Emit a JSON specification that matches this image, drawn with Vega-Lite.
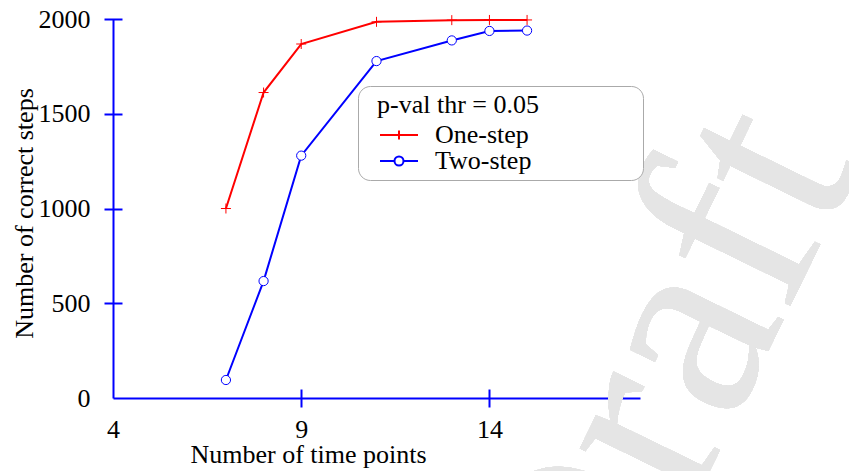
{
  "$schema": "https://vega.github.io/schema/vega-lite/v6.json",
  "width": 527,
  "height": 379,
  "autosize": {"type": "none"},
  "padding": {"left": 113, "top": 19, "right": 209, "bottom": 73},
  "background": "white",
  "config": {
    "view": {"stroke": null},
    "font": "Liberation Serif",
    "axis": {
      "grid": false,
      "zindex": 1,
      "labelFont": "Liberation Serif",
      "labelFontSize": 26,
      "labelColor": "black",
      "titleFont": "Liberation Serif",
      "titleFontSize": 26,
      "titleFontWeight": "normal",
      "titleColor": "black",
      "labelFlush": false,
      "labelOverlap": false
    }
  },
  "data": {
    "values": [
      {"points": 7, "correct": 1000, "method": "One-step"},
      {"points": 8, "correct": 1612, "method": "One-step"},
      {"points": 9, "correct": 1868, "method": "One-step"},
      {"points": 11, "correct": 1985, "method": "One-step"},
      {"points": 13, "correct": 1994, "method": "One-step"},
      {"points": 14, "correct": 1995, "method": "One-step"},
      {"points": 15, "correct": 1995, "method": "One-step"},
      {"points": 7, "correct": 95, "method": "Two-step"},
      {"points": 8, "correct": 617, "method": "Two-step"},
      {"points": 9, "correct": 1279, "method": "Two-step"},
      {"points": 11, "correct": 1778, "method": "Two-step"},
      {"points": 13, "correct": 1887, "method": "Two-step"},
      {"points": 14, "correct": 1937, "method": "Two-step"},
      {"points": 15, "correct": 1939, "method": "Two-step"}
    ]
  },
  "layer": [
    {
      "mark": {
        "type": "text",
        "text": "Draft",
        "font": "Liberation Serif",
        "fontSize": 276,
        "color": "#e5e5e5",
        "angle": 296,
        "align": "left",
        "baseline": "alphabetic",
        "clip": false
      },
      "encoding": {
        "x": {"datum": 17.04, "type": "quantitative", "axis": null, "scale": {"domain": [4, 18], "zero": false, "nice": false}},
        "y": {"datum": -1531, "type": "quantitative", "axis": null, "scale": {"domain": [0, 2000], "nice": false}}
      }
    },
    {
      "mark": {"type": "line", "strokeWidth": 2, "clip": false},
      "encoding": {
        "x": {
          "field": "points",
          "type": "quantitative",
          "scale": {"domain": [4, 18], "zero": false, "nice": false},
          "axis": {
            "values": [4, 9, 14],
            "ticks": false,
            "tickSize": 0,
            "domainColor": "#0000ff",
            "domainWidth": 2,
            "labelPadding": 18,
            "title": "Number of time points",
            "titleX": 195,
            "titleY": 64,
            "titleAlign": "center",
            "titleBaseline": "alphabetic"
          }
        },
        "y": {
          "field": "correct",
          "type": "quantitative",
          "scale": {"domain": [0, 2000], "nice": false},
          "axis": {
            "values": [0, 500, 1000, 1500, 2000],
            "format": "d",
            "ticks": false,
            "tickSize": 0,
            "domainColor": "#0000ff",
            "domainWidth": 2,
            "labelPadding": 23,
            "title": "Number of correct steps",
            "titleAngle": 270,
            "titleX": -81,
            "titleY": 194,
            "titleAlign": "center",
            "titleBaseline": "alphabetic"
          }
        },
        "color": {
          "field": "method",
          "type": "nominal",
          "scale": {"domain": ["One-step", "Two-step"], "range": ["#ff0000", "#0000ff"]},
          "legend": {
            "orient": "none",
            "legendX": 245,
            "legendY": 67,
            "title": "p-val thr = 0.05\u00a0\u00a0\u00a0\u00a0\u00a0\u00a0\u00a0\u00a0\u00a0\u00a0\u00a0\u00a0\u00a0\u00a0\u00a0\u200b",
            "titleLimit": 400,
            "titleFont": "Liberation Serif",
            "titleFontSize": 26,
            "titleFontWeight": "normal",
            "titleColor": "black",
            "titlePadding": 4,
            "labelFont": "Liberation Serif",
            "labelFontSize": 26,
            "labelColor": "black",
            "labelOffset": 45,
            "symbolSize": 400,
            "symbolStrokeWidth": 2,
            "rowPadding": 0,
            "padding": 6,
            "cornerRadius": 12,
            "strokeColor": "#aaaaaa",
            "fillColor": "white",
            "encode": {
              "title": {"update": {"dx": {"value": 13}}},
              "symbols": {
                "update": {
                  "shape": {"signal": "datum.value === 'One-step' ? 'M0.3,0H4.1M2.2,-0.45V0.45' : 'M0.3,0H1.75M2.65,0H4.1M1.75,0A0.45,0.45 0 1 1 2.65,0A0.45,0.45 0 1 1 1.75,0'"},
                  "fill": {"signal": "datum.value === 'Two-step' ? 'white' : 'transparent'"},
                  "strokeWidth": {"value": 2},
                  "opacity": {"value": 1}
                }
              }
            }
          }
        }
      }
    },
    {
      "transform": [{"filter": "datum.method === 'One-step'"}],
      "mark": {
        "type": "point",
        "shape": "M-1,0H1M0,-1V1",
        "filled": false,
        "stroke": "#ff0000",
        "strokeWidth": 1,
        "size": 100,
        "opacity": 1,
        "clip": false
      },
      "encoding": {
        "x": {
          "field": "points",
          "type": "quantitative",
          "axis": {
            "orient": "bottom",
            "values": [9, 14],
            "domain": false,
            "labels": false,
            "title": null,
            "tickSize": 18,
            "tickWidth": 2,
            "tickColor": "#0000ff",
            "offset": -9
          }
        },
        "y": {
          "field": "correct",
          "type": "quantitative",
          "axis": {
            "orient": "left",
            "values": [500, 1000, 1500, 2000],
            "domain": false,
            "labels": false,
            "title": null,
            "tickSize": 18,
            "tickWidth": 2,
            "tickColor": "#0000ff",
            "offset": -9
          }
        }
      }
    },
    {
      "transform": [{"filter": "datum.method === 'Two-step'"}],
      "mark": {
        "type": "point",
        "shape": "circle",
        "filled": true,
        "fill": "white",
        "stroke": "#0000ff",
        "strokeWidth": 1,
        "size": 85,
        "opacity": 1,
        "clip": false
      },
      "encoding": {
        "x": {"field": "points", "type": "quantitative", "axis": null},
        "y": {"field": "correct", "type": "quantitative", "axis": null}
      }
    }
  ],
  "resolve": {"axis": {"x": "independent", "y": "independent"}}
}
